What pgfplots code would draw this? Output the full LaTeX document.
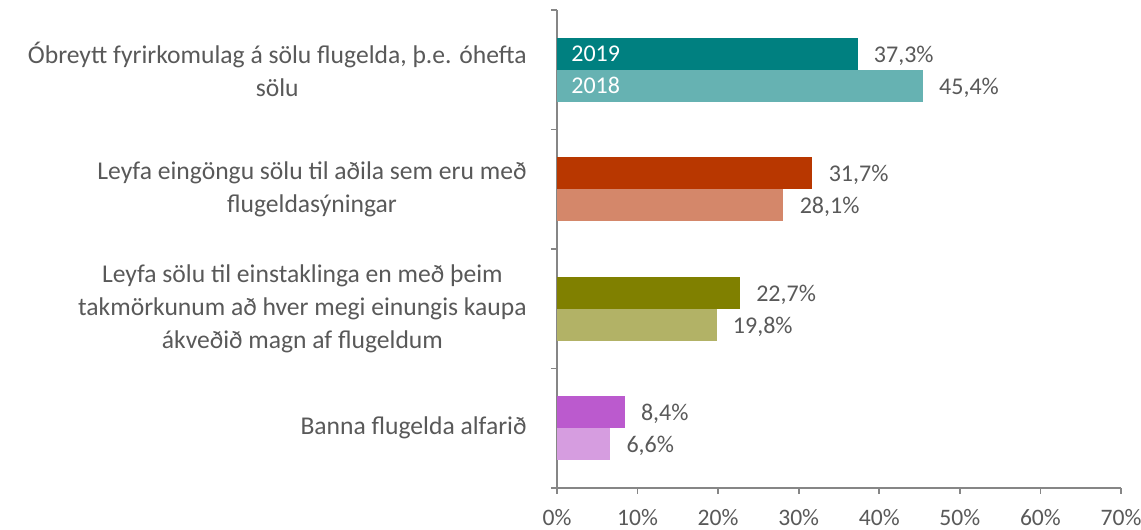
\documentclass[border=0pt]{standalone}
\usepackage{fontspec}
\setmainfont{Carlito}
\usepackage{pgfplots}
\pgfplotsset{compat=1.18}
\definecolor{cA}{HTML}{008080}
\definecolor{cAl}{HTML}{66B2B2}
\definecolor{cB}{HTML}{B83700}
\definecolor{cBl}{HTML}{D4876A}
\definecolor{cC}{HTML}{808000}
\definecolor{cCl}{HTML}{B2B266}
\definecolor{cD}{HTML}{BB5ACE}
\definecolor{cDl}{HTML}{D69DE0}
\definecolor{axisgray}{HTML}{868686}
\definecolor{labelgray}{HTML}{595959}
\begin{document}
\fontsize{12}{14.4}\selectfont
\begin{tikzpicture}
\useasboundingbox (-278.5pt,-21pt) rectangle (292pt,244pt);
\begin{axis}[
  at={(0,0)}, anchor=south west,
  scale only axis, width=282pt, height=239pt,
  xbar, bar width=0.268,
  xmin=0, xmax=70, ymin=-0.5, ymax=3.5,
  axis x line*=bottom, axis y line*=left,
  axis line style={-, draw=axisgray, line width=0.8pt},
  tick align=outside,
  major tick length=3pt, minor tick length=3pt,
  xtick={0,10,...,70},
  xticklabel={\pgfmathprintnumber[assume math mode=true]{\tick}\%},
  xticklabel style={text=labelgray, yshift=-3.5pt, font=\fontsize{11.8}{14}\selectfont},
  x tick style={draw=axisgray, line width=0.8pt},
  ytick={0,1,2,3},
  yticklabels={{Banna flugelda alfarið},
    {Leyfa sölu til einstaklinga en með þeim\\takmörkunum að hver megi einungis kaupa\\ákveðið magn af flugeldum},
    {Leyfa eingöngu sölu til aðila sem eru með\\flugeldasýningar},
    {Óbreytt fyrirkomulag á sölu flugelda, þ.e. óhefta\\sölu}},
  yticklabel style={align=center, anchor=east, text=labelgray, xshift=-8pt, font=\fontsize{12.8}{16.5}\selectfont},
  major y tick style={draw=none},
  minor ytick={-0.5,0.5,1.5,2.5,3.5},
  minor y tick style={draw=axisgray, line width=0.8pt},
  point meta=x,
  nodes near coords={\pgfmathprintnumber[fixed,fixed zerofill,precision=1,use comma,assume math mode=true]{\pgfplotspointmeta}\%},
  every node near coord/.append style={text=labelgray, anchor=west, xshift=4pt, yshift=-1pt, font=\fontsize{12}{14}\selectfont},
  clip=false,
]
\addplot[fill=cA, draw=none, bar shift=0.134] coordinates {(37.3,3)};
\addplot[fill=cAl, draw=none, bar shift=-0.134] coordinates {(45.4,3)};
\addplot[fill=cB, draw=none, bar shift=0.134] coordinates {(31.7,2)};
\addplot[fill=cBl, draw=none, bar shift=-0.134] coordinates {(28.1,2)};
\addplot[fill=cC, draw=none, bar shift=0.134] coordinates {(22.7,1)};
\addplot[fill=cCl, draw=none, bar shift=-0.134] coordinates {(19.8,1)};
\addplot[fill=cD, draw=none, bar shift=0.134] coordinates {(8.4,0)};
\addplot[fill=cDl, draw=none, bar shift=-0.134] coordinates {(6.6,0)};
\node[anchor=west, text=white, xshift=3pt] at (axis cs:0,3.134) {2019};
\node[anchor=west, text=white, xshift=3pt] at (axis cs:0,2.866) {2018};
\end{axis}
\end{tikzpicture}
\end{document}
